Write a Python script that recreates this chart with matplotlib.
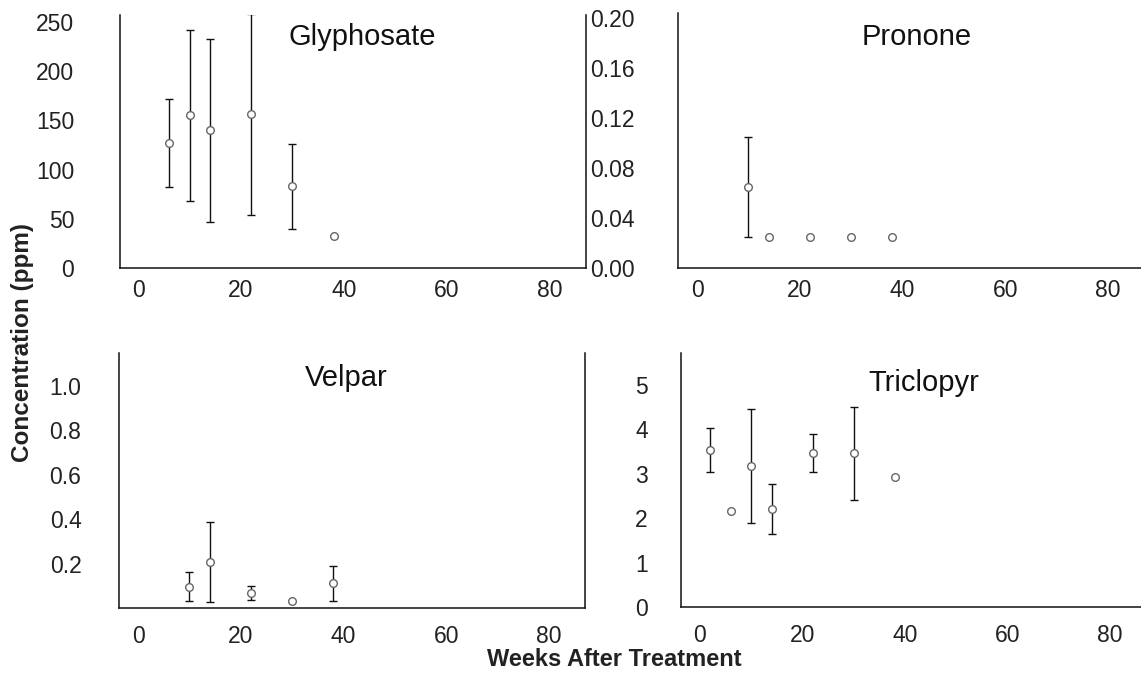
"""
Concentrations d'herbicides (ppm) en fonction des semaines après traitement.
Quatre panneaux : Glyphosate, Pronone, Velpar, Triclopyr (moyenne ± écart).
"""

import matplotlib
matplotlib.use("Agg")
import matplotlib.pyplot as plt
import numpy as np

plt.rcParams["font.family"] = ["Liberation Sans", "DejaVu Sans"]

# Glyphosate
weeks_gly = [6, 10, 14, 22, 30, 38]
gly_mean = [127, 155, 140, 156, 83, 32]
gly_err = [45, 87, 93, 102, 43, 0]

# Pronone
weeks_pro = [10, 14, 22, 30, 38]
pro_mean = [0.065, 0.025, 0.025, 0.025, 0.025]
pro_err = [0.040, 0, 0, 0, 0]

# Velpar
weeks_vel = [10, 14, 22, 30, 38]
vel_mean = [0.096, 0.209, 0.066, 0.032, 0.111]
vel_err = [0.066, 0.180, 0.032, 0, 0.080]

# Triclopyr
weeks_tri = [2, 6, 10, 14, 22, 30, 38]
tri_mean = [3.54, 2.17, 3.18, 2.21, 3.46, 3.46, 2.93]
tri_err = [0.50, 0, 1.28, 0.57, 0.43, 1.05, 0]

x_ticks = [0, 20, 40, 60, 80]
gly_ticks = [0, 50, 100, 150, 200, 250]
pro_ticks = [0.00, 0.04, 0.08, 0.12, 0.16, 0.20]
vel_ticks = [0.2, 0.4, 0.6, 0.8, 1.0]
tri_ticks = [0, 1, 2, 3, 4, 5]

W, H = 1141, 691
fig = plt.figure(figsize=(W / 100, H / 100), dpi=100)


def px_axes(left, top, right, bottom):
    return fig.add_axes([left / W, 1 - bottom / H, (right - left) / W, (bottom - top) / H])


def panel(ax, weeks, mean, err, title, title_xy, xlim, ylim, yticks, yfmt, ypad, xpad):
    weeks = np.asarray(weeks, float)
    mean = np.asarray(mean, float)
    err = np.asarray(err, float)
    m = err > 0
    ax.errorbar(weeks[m], mean[m], yerr=err[m], fmt="none", ecolor="#111",
                elinewidth=1.0, capsize=3, capthick=1.0, zorder=2)
    ax.plot(weeks, mean, "o", ms=5.5, mfc="white", mec="#666", mew=1.0, zorder=3)
    ax.set_xlim(*xlim)
    ax.set_ylim(*ylim)
    ax.set_xticks(x_ticks)
    ax.set_yticks(yticks)
    ax.set_yticklabels([yfmt.format(v) for v in yticks])
    ax.tick_params(axis="y", length=0, pad=ypad, labelsize=16.5, colors="#222")
    ax.tick_params(axis="x", length=0, pad=xpad, labelsize=16.5, colors="#222")
    for s in ["top", "right"]:
        ax.spines[s].set_visible(False)
    for s in ["left", "bottom", "right"]:
        ax.spines[s].set_color("#111")
        ax.spines[s].set_linewidth(1.1)
    ax.text(*title_xy, title, transform=ax.transAxes, ha="center", va="center",
            fontsize=21, color="#111")
    ax.patch.set_alpha(0)


ax1 = px_axes(120, 15, 586, 268)
panel(ax1, weeks_gly, gly_mean, gly_err, "Glyphosate", (0.52, 0.913),
      (-3.5, 87), (0, 257), gly_ticks, "{:g}", 33, 8)
ax1.spines["right"].set_visible(True)

ax2 = px_axes(678, 13, 1141, 268)
panel(ax2, weeks_pro, pro_mean, pro_err, "Pronone", (0.516, 0.905),
      (-3.7, 86.4), (0, 0.204), pro_ticks, "{:.2f}", 31, 8)

ax3 = px_axes(119, 353, 585, 608)
panel(ax3, weeks_vel, vel_mean, vel_err, "Velpar", (0.487, 0.902),
      (-3.7, 87), (0, 1.149), vel_ticks, "{:.1f}", 27, 12)
ax3.spines["right"].set_visible(True)

ax4 = px_axes(681, 353, 1141, 607)
panel(ax4, weeks_tri, tri_mean, tri_err, "Triclopyr", (0.528, 0.88),
      (-3.7, 86), (0, 5.72), tri_ticks, "{:g}", 24, 12)

fig.text(23 / W, 1 - 343 / H, "Concentration (ppm)", rotation=90, ha="center",
         va="center", fontsize=17.5, fontweight="bold", color="#222")
fig.text(614 / W, 1 - 660 / H, "Weeks After Treatment", ha="center", va="center",
         fontsize=17, fontweight="bold", color="#222")

fig.savefig("out.png", dpi=100)
plt.close(fig)
